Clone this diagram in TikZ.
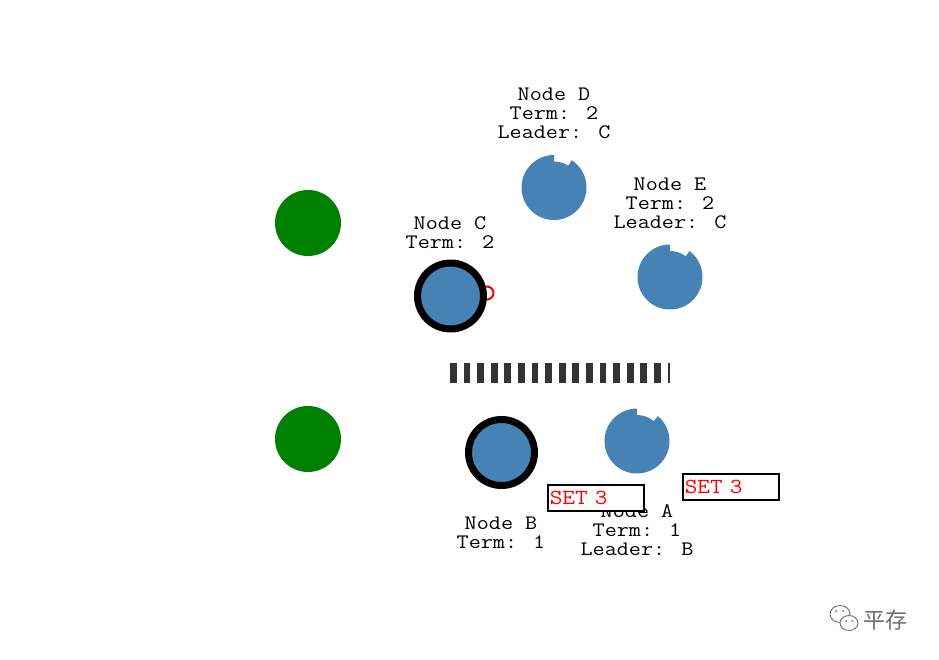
\documentclass[tikz,border=0pt]{standalone}
\usepackage{fontspec}
\newfontfamily\monofam[FakeStretch=1.14]{Latin Modern Mono}
\newfontfamily\cjkfam{Noto Sans CJK SC}
\usetikzlibrary{calc}
\definecolor{nodeblue}{HTML}{4682B4}
\definecolor{peergreen}{HTML}{008000}
\definecolor{barcol}{HTML}{333333}
\definecolor{wmgray}{HTML}{6E6E6E}
\tikzset{
  lbl/.style={font=\monofam\fontsize{20.6}{19}\selectfont, align=center, inner sep=0pt, anchor=base},
  peer/.style={circle, fill=peergreen, minimum size=66pt, inner sep=0pt},
  leaderring/.style={circle, fill=nodeblue, draw=black, line width=7pt, minimum size=66pt, inner sep=0pt},
  setbox/.style={draw=black, line width=1.5pt, fill=white, font=\monofam\fontsize{21.5}{19}\selectfont, text=red,
     inner xsep=2pt, inner ysep=0pt, text width=92pt, align=left, minimum height=26pt, anchor=west},
}
\newcommand{\notchdisc}[2]{% center, notch end angle
  \fill[nodeblue] ($(#1)+(90:26pt)$) arc[start angle=90, end angle=#2, radius=26pt]
     -- ($(#1)+(#2:32.5pt)$) arc[start angle=#2, end angle=-270, radius=32.5pt] -- cycle;
}
\begin{document}
\begin{tikzpicture}[x=1pt,y=1pt]
\useasboundingbox (0,0) rectangle (939,-660);
% green peers
\node[peer] (g1) at (308,-223) {};
\node[peer] (g2) at (308,-439) {};
% node D, E, A (followers)
\coordinate (d) at (554,-187.5);
\coordinate (e) at (670,-277);
\coordinate (a) at (637,-441);
\notchdisc{d}{57}
\notchdisc{e}{53}
\notchdisc{a}{50}
% node C with red marker
\node[circle, draw=red, line width=2pt, minimum size=13pt, inner sep=0pt] (cmark) at (487,-293) {};
\node[leaderring] (c) at (450.5,-296) {};
% node B
\node[leaderring] (b) at (501.5,-452.5) {};
% partition bar
\coordinate (barL) at (450,-373);
\coordinate (barR) at (670,-373);
\draw[barcol, line width=19.5pt, dash pattern=on 6.7pt off 6.9pt] (barL) -- (barR);
% labels (anchor = baseline of last line)
\node[lbl] (ld) at (554,-139) {Node D\\Term: 2\\Leader: C};
\node[lbl] (lc) at (450,-249) {Node C\\Term: 2};
\node[lbl] (le) at (670,-229) {Node E\\Term: 2\\Leader: C};
\node[lbl] (lb) at (501,-548) {Node B\\Term: 1};
\node[lbl] (la) at (637,-555) {Node A\\Term: 1\\Leader: B};
% messages
\node[setbox] (set1) at (547,-498) {SET 3};
\node[setbox] (set2) at (682,-487) {SET 3};
% watermark
\begin{scope}[wmgray, line width=0.9pt]
  \draw (840,-614) ellipse [x radius=10pt, y radius=8.5pt];
  \fill[white] (849,-623) ellipse [x radius=9pt, y radius=7.5pt];
  \draw (849,-623) ellipse [x radius=9pt, y radius=7.5pt];
  \fill (836,-611) circle (1pt) (843,-611) circle (1pt);
  \fill (846,-621) circle (1pt) (852,-621) circle (1pt);
\end{scope}
\node[font=\cjkfam\fontsize{22}{24}\selectfont, text=wmgray, inner sep=0pt] (wm) at (885,-620) {平存};
\end{tikzpicture}
\end{document}
